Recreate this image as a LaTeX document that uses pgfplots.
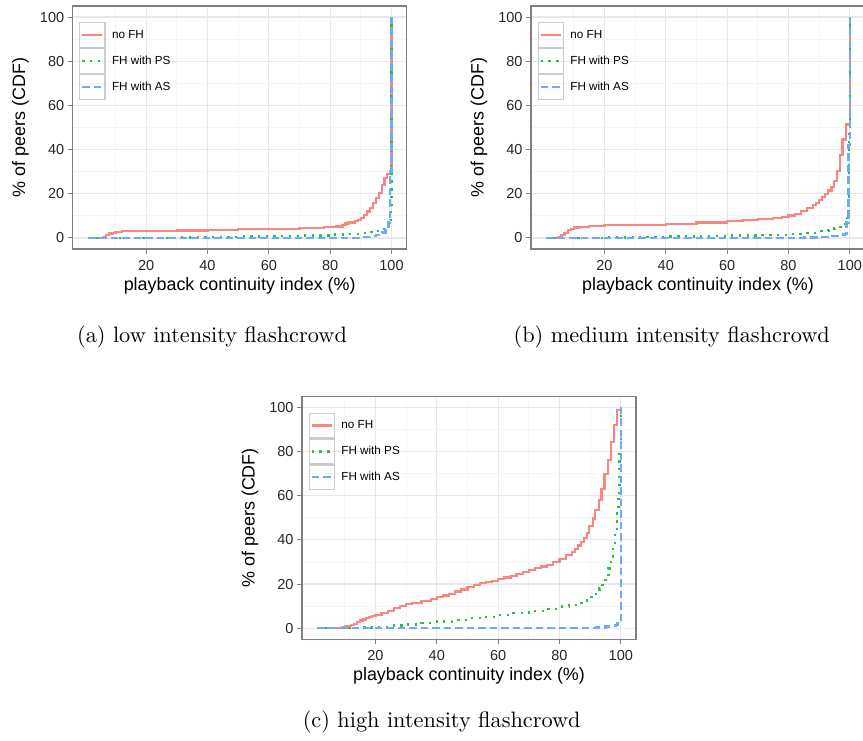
\documentclass[border=0pt]{standalone}
\usepackage{fontspec}
\usepackage{graphicx}
\usepackage{pgfplots}
\pgfplotsset{compat=1.18}
\newfontfamily\plotfont{Liberation Sans}

\definecolor{cnofh}{HTML}{F9877F}
\definecolor{cps}{HTML}{22C04E}
\definecolor{cas}{HTML}{6BAAFF}

\pgfplotsset{
  panel/.style={
    scale only axis, width=334pt, height=243pt,
    xmin=-3.95, xmax=104.95, ymin=-5, ymax=105,
    xtick={20,40,60,80,100}, ytick={0,20,40,60,80,100},
    minor xtick={10,30,50,70,90}, minor ytick={10,30,50,70,90},
    grid=both,
    major grid style={draw=black!9, line width=1.2pt},
    minor grid style={draw=black!4, line width=0.8pt},
    axis line style={draw=black!50, line width=1.2pt},
    tick align=outside, major tick length=5pt, minor tick length=0pt,
    tick style={draw=black!50, line width=1pt},
    xtick pos=bottom, ytick pos=left,
    /pgf/number format/assume math mode=true,
    ticklabel style={font=\plotfont\fontsize{14.5}{16}\selectfont, text=black!85},
    xticklabel style={yshift=-3pt},
    xlabel={playback continuity index (\%)},
    ylabel={\% of peers (CDF)},
    label style={font=\plotfont\fontsize{17.9}{20}\selectfont},
    xlabel style={at={(axis description cs:0.5,-0.152)}, anchor=center},
    ylabel style={at={(axis description cs:-0.156,0.5)}, anchor=center},
    legend cell align=left,
    legend style={at={(0,1)}, anchor=north west, xshift=6.3pt, yshift=-16pt,
      draw=none, fill=none, row sep=0pt, inner sep=0pt,
      nodes={inner xsep=0pt, inner ysep=0pt},
      font=\plotfont\fontsize{11.7}{13}\selectfont},
    legend image code/.code={
      \draw[solid, draw=black!20, line width=1.3pt, fill=none] (0pt,-12.3pt) rectangle (25pt,12.3pt);
      \path (31pt,0pt);
      \draw (2.5pt,0pt) -- (22.5pt,0pt);
    },
  },
  nofh/.style={const plot, color=cnofh, line width=2.2pt},
  ps/.style={const plot, color=cps, line width=2.3pt, dash pattern=on 2.3pt off 5.5pt},
  as/.style={const plot, color=cas, line width=2.4pt, dash pattern=on 7.5pt off 4pt},
}
\tikzset{subcap/.style={anchor=base}}

\begin{document}
\begin{tikzpicture}[x=1pt,y=1pt]
\useasboundingbox (0,0) rectangle (863,740);

% (a) low intensity
\begin{axis}[panel, at={(72.7pt,491pt)}, anchor=south west]
\addplot[nofh] coordinates {(1,0)(5,0)(6,0.5)(7,1.2)(8,2)(9,2.4)(10,2.7)(12,3)(14,3.2)(20,3.3)(30,3.4)(40,3.6)(50,3.9)(60,4.1)(70,4.5)(78,4.9)(82,5.2)(84,5.8)(85,6.5)(86,7)(88,7.5)(89,8)(90,9)(91,10.5)(92,12)(93,13.5)(94,16)(95,18)(96,20.5)(97,24)(97.7,27)(98.5,29)(100,100)};
\addlegendentry{no FH}
\addplot[ps] coordinates {(1,0)(15,0)(20,0.1)(30,0.2)(40,0.4)(50,0.6)(60,0.8)(70,1.1)(80,1.5)(85,1.8)(90,2.3)(93,2.8)(95,3.3)(97,4)(98,5)(98.8,6)(99.3,8)(99.7,15)(100,100)};
\addlegendentry{FH with PS}
\addplot[as] coordinates {(1,0)(85,0)(90,0.3)(93,0.8)(95,1.3)(97,2.5)(98,3.5)(99,7)(99.6,30)(100,100)};
\addlegendentry{FH with AS}
\end{axis}

% (b) medium intensity
\begin{axis}[panel, at={(531pt,491pt)}, anchor=south west]
\addplot[nofh] coordinates {(1,0)(4.5,0)(5,0.5)(6,1.5)(7,2.3)(8,3.5)(9,4.2)(10,4.7)(12,5)(15,5.3)(20,5.7)(30,5.9)(40,6.4)(50,7)(60,7.7)(65,8)(70,8.5)(75,9)(78,9.6)(80,10.2)(82,11)(84,12.3)(86,13.5)(88,15)(89,16)(90,17)(91,18.5)(92,20)(93,21.5)(94,23)(94.8,25.7)(95.7,30.3)(96.8,37.4)(97.6,44.6)(98.7,51.4)(100,100)};
\addlegendentry{no FH}
\addplot[ps] coordinates {(1,0)(15,0)(20,0.2)(30,0.5)(40,0.7)(50,0.9)(60,1.1)(70,1.4)(80,1.9)(85,2.3)(90,3)(93,3.6)(95,4.3)(96.5,5)(97.5,6)(98.5,7.5)(99.2,9.5)(99.6,15)(99.8,48)(100,100)};
\addlegendentry{FH with PS}
\addplot[as] coordinates {(1,0)(80,0)(85,0.2)(90,0.5)(94,1)(97,1.5)(98.4,1.8)(98.9,7)(99.6,42)(100,100)};
\addlegendentry{FH with AS}
\end{axis}

% (c) high intensity
\begin{axis}[panel, at={(302pt,100.7pt)}, anchor=south west]
\addplot[nofh] coordinates {(1,0)(8,0)(9,0.5)(10,1)(12,1.5)(13,2)(14,3)(15,3.5)(16,4)(17,4.5)(18,5)(19,5.5)(20,6)(22,6.8)(24,7.8)(26,9)(28,10)(30,10.8)(32,11.5)(35,12.2)(38,13.2)(40,14)(42,14.8)(44,15.6)(46,16.6)(48,17.5)(50,18.5)(52,19.5)(54,20.4)(56,21)(58,21.5)(60,22.3)(62,23)(64,23.8)(66,24.6)(68,25.3)(70,26.2)(72,27.2)(74,28)(76,28.8)(78,30)(80,31.5)(82,33)(84,34.5)(85,36)(86,37.5)(87,39)(88,41)(89,43.3)(89.7,46.3)(90.8,49.7)(91.7,53.7)(92.8,58.2)(93.7,63.1)(94.7,69.8)(95.8,76.2)(96.9,84.3)(97.8,91.9)(98.8,98.8)(100,100)};
\addlegendentry{no FH}
\addplot[ps] coordinates {(1,0)(12,0)(15,0.3)(20,0.7)(25,1.2)(30,1.7)(35,2.3)(40,3)(45,3.7)(50,4.5)(55,5.2)(60,6)(65,6.8)(70,7.8)(75,8.8)(80,9.8)(83,10.5)(86,11.5)(88,12.5)(90,14)(91.5,15.5)(93,18)(94,20.5)(95,23)(96,27)(96.8,31)(97.5,36)(98.2,43)(98.8,52)(99.2,60)(99.6,80)(100,100)};
\addlegendentry{FH with PS}
\addplot[as] coordinates {(1,0)(88,0)(92,0.3)(95,0.8)(97,1.1)(98.2,1.4)(98.9,2.9)(100,100)};
\addlegendentry{FH with AS}
\end{axis}

\node[subcap] at (212,397) {\scalebox{2.23}{\fontsize{10}{12}\selectfont (a) low intensity flashcrowd}};
\node[subcap] at (671.7,397) {\scalebox{2.23}{\fontsize{10}{12}\selectfont (b) medium intensity flashcrowd}};
\node[subcap] at (441.7,13) {\scalebox{2.23}{\fontsize{10}{12}\selectfont (c) high intensity flashcrowd}};
\end{tikzpicture}
\end{document}
